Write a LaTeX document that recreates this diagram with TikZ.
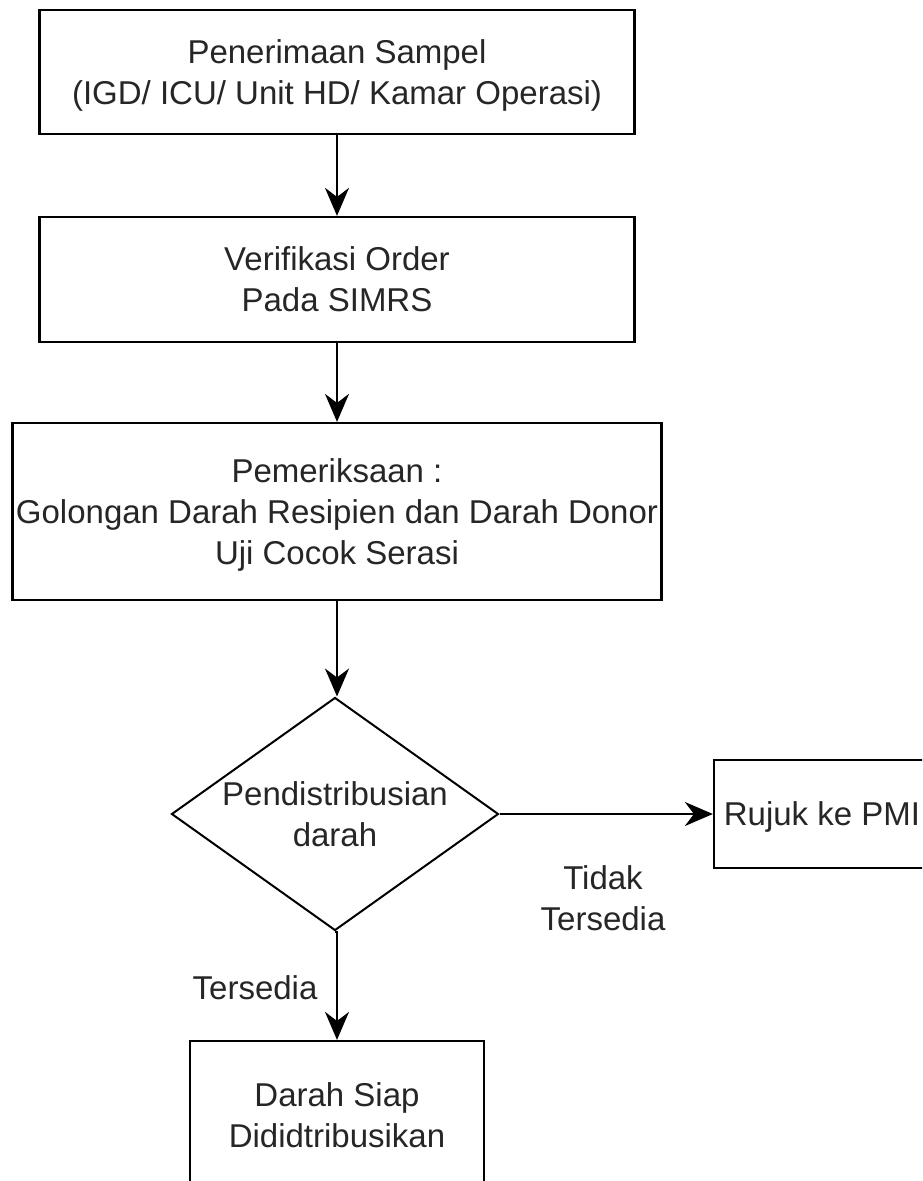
\documentclass[tikz,border=0pt]{standalone}
\usepackage{fontspec}
\setmainfont{Liberation Sans}
\usetikzlibrary{shapes.geometric,arrows.meta}
\begin{document}
\begin{tikzpicture}[x=1pt,y=-1pt,
  every node/.style={font=\fontsize{33}{41}\selectfont, text=black!85},
  procbox/.style={draw=black, line width=2.2pt, fill=white, align=center, inner sep=0pt, text depth=0pt},
  decbox/.style={draw=black, line width=2pt, diamond, inner sep=0pt, fill=white},
  lbl/.style={align=center, inner sep=0pt},
  flow/.style={draw=black, line width=2pt, -{Stealth[length=28pt, width=24pt, inset=9pt]}}]
\useasboundingbox (0,0) rectangle (922,1181);
\fill[white] (0,0) rectangle (922,1181);
\clip (0,0) rectangle (922,1181);

\node[procbox, minimum width=595pt, minimum height=124pt] (b1) at (337,72)
  {Penerimaan Sampel\\(IGD/ ICU/ Unit HD/ Kamar Operasi)};
\node[procbox, minimum width=595pt, minimum height=125pt] (b2) at (337,279.5)
  {Verifikasi Order\\Pada SIMRS};
\node[procbox, minimum width=649pt, minimum height=177pt] (b3) at (337,511.5)
  {Pemeriksaan :\\Golongan Darah Resipien dan Darah Donor\\Uji Cocok Serasi};
\node[decbox, minimum width=327pt, minimum height=233pt] (dec) at (335,814) {};
\node[lbl] (dectext) at (dec.center) {Pendistribusian\\darah};
\node[procbox, minimum width=216pt, minimum height=108pt] (pmi) at (822,814) {Rujuk ke PMI};
\node[procbox, minimum width=294pt, minimum height=148pt] (siap) at (337,1115)
  {Darah Siap\\Dididtribusikan};

\draw[flow] (b1.south) -- (b2.north);
\draw[flow] (b2.south) -- (b3.north);
\draw[flow] (b3.south) -- (b3.south |- dec.north);
\draw[flow] (dec.south) -- (dec.south -| siap.north) -- (siap.north);
\draw[flow] (dec.east) -- (pmi.west);

\node[lbl] (ltidak) at (603,898) {Tidak\\Tersedia};
\node[lbl] (lada) at (255,988) {Tersedia};
\end{tikzpicture}
\end{document}
